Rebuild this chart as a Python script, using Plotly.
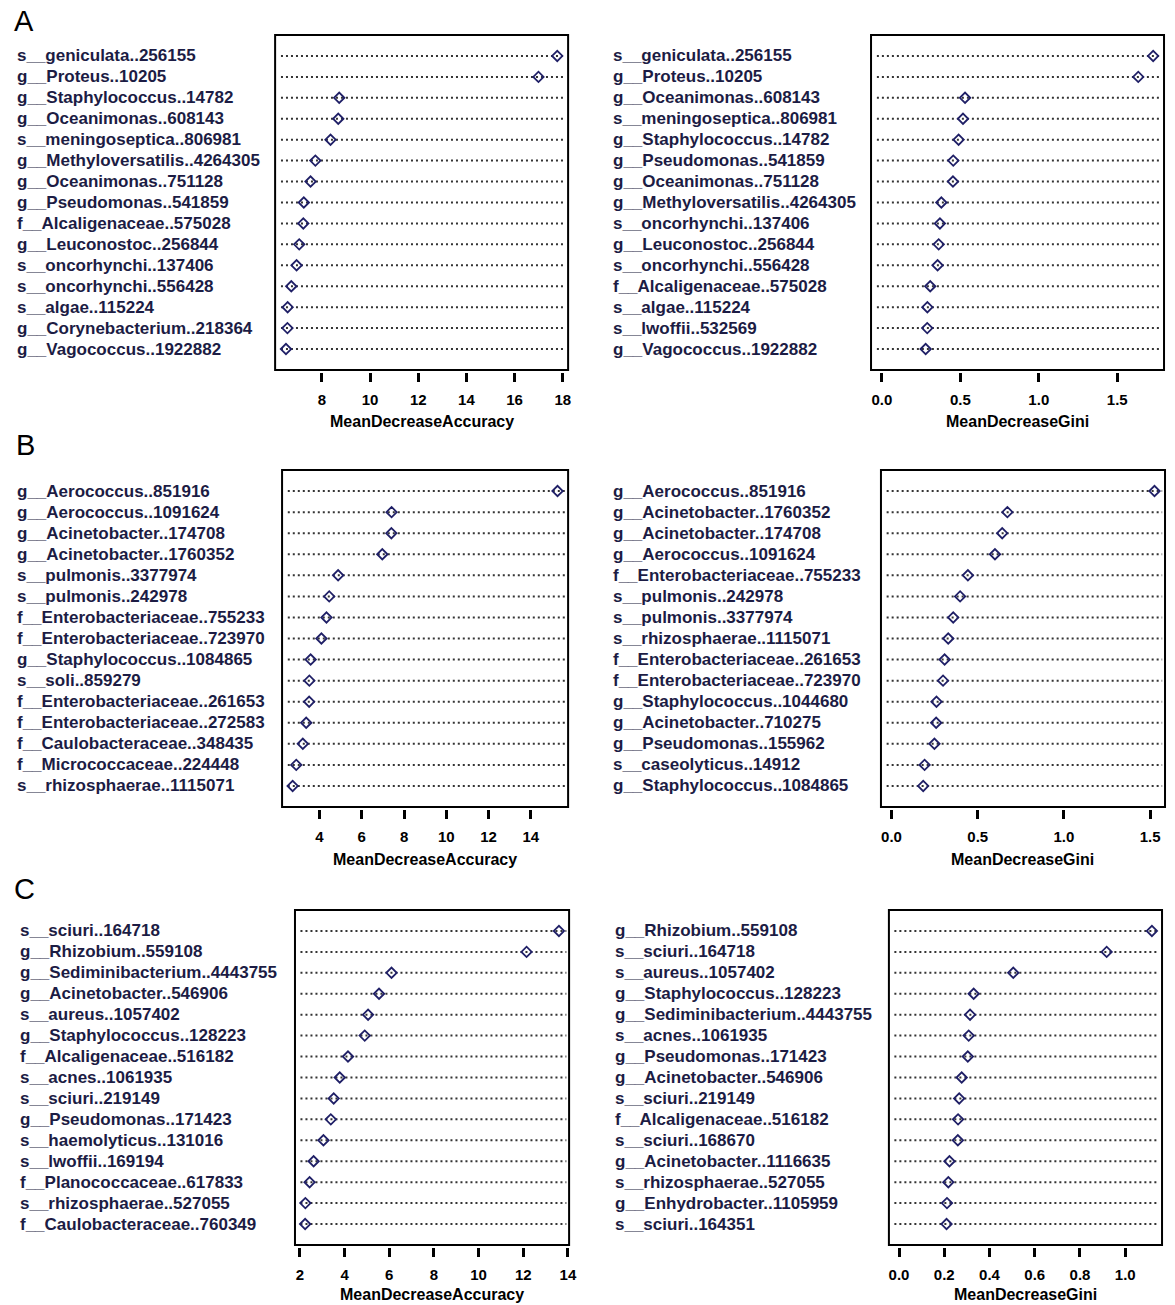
import plotly.graph_objects as go

W, H = 1175, 1305

# ---- Panel A ----
a_acc_labels = [
    "s__geniculata..256155", "g__Proteus..10205", "g__Staphylococcus..14782",
    "g__Oceanimonas..608143", "s__meningoseptica..806981", "g__Methyloversatilis..4264305",
    "g__Oceanimonas..751128", "g__Pseudomonas..541859", "f__Alcaligenaceae..575028",
    "g__Leuconostoc..256844", "s__oncorhynchi..137406", "s__oncorhynchi..556428",
    "s__algae..115224", "g__Corynebacterium..218364", "g__Vagococcus..1922882",
]
a_acc_values = [17.77, 16.99, 8.72, 8.68, 8.36, 7.73, 7.53, 7.25, 7.23, 7.06, 6.95, 6.73, 6.58, 6.57, 6.51]

a_gini_labels = [
    "s__geniculata..256155", "g__Proteus..10205", "g__Oceanimonas..608143",
    "s__meningoseptica..806981", "g__Staphylococcus..14782", "g__Pseudomonas..541859",
    "g__Oceanimonas..751128", "g__Methyloversatilis..4264305", "s__oncorhynchi..137406",
    "g__Leuconostoc..256844", "s__oncorhynchi..556428", "f__Alcaligenaceae..575028",
    "s__algae..115224", "s__lwoffii..532569", "g__Vagococcus..1922882",
]
a_gini_values = [1.729, 1.634, 0.530, 0.517, 0.489, 0.455, 0.453, 0.379, 0.370, 0.362, 0.355, 0.308, 0.290, 0.289, 0.279]

# ---- Panel B ----
b_acc_labels = [
    "g__Aerococcus..851916", "g__Aerococcus..1091624", "g__Acinetobacter..174708",
    "g__Acinetobacter..1760352", "s__pulmonis..3377974", "s__pulmonis..242978",
    "f__Enterobacteriaceae..755233", "f__Enterobacteriaceae..723970", "g__Staphylococcus..1084865",
    "s__soli..859279", "f__Enterobacteriaceae..261653", "f__Enterobacteriaceae..272583",
    "f__Caulobacteraceae..348435", "f__Micrococcaceae..224448", "s__rhizosphaerae..1115071",
]
b_acc_values = [15.26, 7.41, 7.40, 6.97, 4.88, 4.46, 4.33, 4.09, 3.58, 3.52, 3.51, 3.37, 3.21, 2.90, 2.73]

b_gini_labels = [
    "g__Aerococcus..851916", "g__Acinetobacter..1760352", "g__Acinetobacter..174708",
    "g__Aerococcus..1091624", "f__Enterobacteriaceae..755233", "s__pulmonis..242978",
    "s__pulmonis..3377974", "s__rhizosphaerae..1115071", "f__Enterobacteriaceae..261653",
    "f__Enterobacteriaceae..723970", "g__Staphylococcus..1044680", "g__Acinetobacter..710275",
    "g__Pseudomonas..155962", "s__caseolyticus..14912", "g__Staphylococcus..1084865",
]
b_gini_values = [1.525, 0.672, 0.642, 0.600, 0.443, 0.398, 0.358, 0.329, 0.308, 0.299, 0.261, 0.259, 0.249, 0.192, 0.184]

# ---- Panel C ----
c_acc_labels = [
    "s__sciuri..164718", "g__Rhizobium..559108", "g__Sediminibacterium..4443755",
    "g__Acinetobacter..546906", "s__aureus..1057402", "g__Staphylococcus..128223",
    "f__Alcaligenaceae..516182", "s__acnes..1061935", "s__sciuri..219149",
    "g__Pseudomonas..171423", "s__haemolyticus..131016", "s__lwoffii..169194",
    "f__Planococcaceae..617833", "s__rhizosphaerae..527055", "f__Caulobacteraceae..760349",
]
c_acc_values = [13.60, 12.15, 6.10, 5.54, 5.05, 4.90, 4.15, 3.78, 3.51, 3.38, 3.05, 2.61, 2.43, 2.24, 2.23]

c_gini_labels = [
    "g__Rhizobium..559108", "s__sciuri..164718", "s__aureus..1057402",
    "g__Staphylococcus..128223", "g__Sediminibacterium..4443755", "s__acnes..1061935",
    "g__Pseudomonas..171423", "g__Acinetobacter..546906", "s__sciuri..219149",
    "f__Alcaligenaceae..516182", "s__sciuri..168670", "g__Acinetobacter..1116635",
    "s__rhizosphaerae..527055", "g__Enhydrobacter..1105959", "s__sciuri..164351",
]
c_gini_values = [1.118, 0.918, 0.505, 0.330, 0.314, 0.308, 0.304, 0.277, 0.266, 0.261, 0.260, 0.223, 0.218, 0.212, 0.210]

panel_letters = ["A", "B", "C"]

FONT = "Liberation Sans, Arial, sans-serif"
LABEL_COLOR = "#1c1c44"
MARK_COLOR = "#1f1f66"

# panel geometry in pixels: (left, top, right, bottom), label x, title y
panels = [
    dict(labels=a_acc_labels, values=a_acc_values, title="MeanDecreaseAccuracy", gini=False,
         box=(277, 35, 572, 370), lab_x=15, title_y=421, dtick=2),
    dict(labels=a_gini_labels, values=a_gini_values, title="MeanDecreaseGini", gini=True,
         box=(877, 35, 1172, 370), lab_x=615, title_y=421, dtick=0.5),
    dict(labels=b_acc_labels, values=b_acc_values, title="MeanDecreaseAccuracy", gini=False,
         box=(284, 470, 572, 807), lab_x=15, title_y=859, dtick=2),
    dict(labels=b_gini_labels, values=b_gini_values, title="MeanDecreaseGini", gini=True,
         box=(887, 470, 1173, 807), lab_x=615, title_y=859, dtick=0.5),
    dict(labels=c_acc_labels, values=c_acc_values, title="MeanDecreaseAccuracy", gini=False,
         box=(297, 910, 573, 1245), lab_x=18, title_y=1294, dtick=2),
    dict(labels=c_gini_labels, values=c_gini_values, title="MeanDecreaseGini", gini=True,
         box=(895, 910, 1170, 1245), lab_x=617, title_y=1294, dtick=0.2),
]

fig = go.Figure()
shapes = []
annotations = []
layout_axes = {}

for k, p in enumerate(panels, start=1):
    xn = "x" if k == 1 else f"x{k}"
    yn = "y" if k == 1 else f"y{k}"
    xl = "xaxis" if k == 1 else f"xaxis{k}"
    yl = "yaxis" if k == 1 else f"yaxis{k}"
    vals = p["values"]
    n = len(vals)
    rows = [n - i for i in range(n)]

    lo = 0.0 if p["gini"] else min(vals)
    hi = max(vals)
    pad = 0.04 * (hi - lo)
    x0, y0, x1, y1 = p["box"]

    fig.add_trace(go.Scatter(
        x=vals, y=rows, xaxis=xn, yaxis=yn, mode="markers",
        marker=dict(symbol="diamond-open", size=8, color=MARK_COLOR,
                    line=dict(width=1.8, color=MARK_COLOR)),
        hoverinfo="skip", showlegend=False,
    ))

    layout_axes[xl] = dict(
        domain=[x0 / W, x1 / W], range=[lo - pad, hi + pad],
        anchor="free", position=1 - (y1 + 2) / H,
        showline=False, showgrid=False, zeroline=False,
        ticks="outside", ticklen=9, tickwidth=2.5, tickcolor="black",
        ticklabelstandoff=5,
        tick0=0, dtick=p["dtick"], tickformat=".1f" if p["gini"] else "d",
        tickfont=dict(family=FONT, size=15, color="black", weight="bold"),
        fixedrange=True,
    )
    layout_axes[yl] = dict(
        domain=[1 - y1 / H, 1 - y0 / H], range=[0, n + 1], anchor=xn,
        showline=False, showgrid=False, zeroline=False,
        showticklabels=False, ticks="", fixedrange=True,
    )

    # frame around the plotting region
    shapes.append(dict(type="rect", xref=f"{xn} domain", yref=f"{yn} domain",
                       x0=0, x1=1, y0=0, y1=1, line=dict(color="black", width=2)))
    # dotted guide lines for each row
    for r in rows:
        shapes.append(dict(type="line", xref=f"{xn} domain", yref=yn,
                           x0=0.02, x1=0.99, y0=r, y1=r, layer="below",
                           line=dict(color="#333333", width=2, dash="2px,3px")))
    # row labels
    for lab, r in zip(p["labels"], rows):
        annotations.append(dict(xref="paper", yref=yn, x=p["lab_x"] / W, y=r,
                                xanchor="left", yanchor="middle", text=lab, showarrow=False,
                                font=dict(family=FONT, size=17, color=LABEL_COLOR, weight="bold")))
    # axis title
    annotations.append(dict(xref=f"{xn} domain", yref="paper", x=0.5, y=1 - p["title_y"] / H,
                            xanchor="center", yanchor="middle", text=p["title"], showarrow=False,
                            font=dict(family=FONT, size=16, color="black", weight="bold")))

# panel letters
for letter, (lx, ly) in zip(panel_letters, [(12, 21), (14, 445), (12, 889)]):
    annotations.append(dict(xref="paper", yref="paper", x=lx / W, y=1 - ly / H,
                            xanchor="left", yanchor="middle", text=letter, showarrow=False,
                            font=dict(family=FONT, size=29, color="black")))

fig.update_layout(
    width=W, height=H, margin=dict(l=0, r=0, t=0, b=0),
    paper_bgcolor="white", plot_bgcolor="white", showlegend=False,
    shapes=shapes, annotations=annotations, **layout_axes,
)

fig.write_html("out.html")
